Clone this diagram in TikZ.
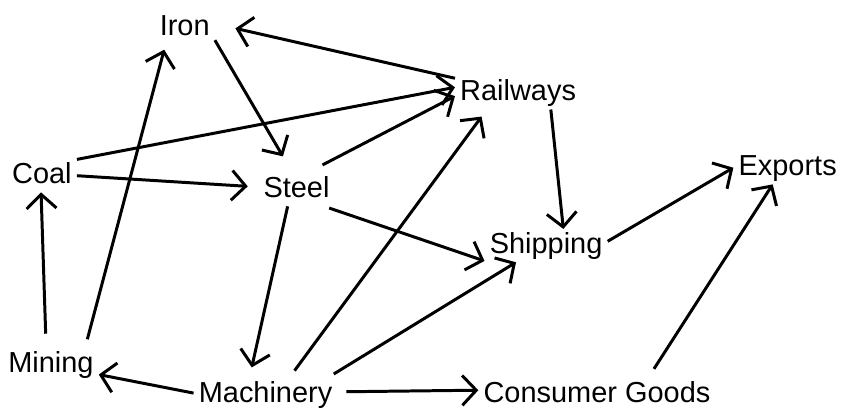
\documentclass[tikz,border=0pt]{standalone}
\usepackage{fontspec}
\setmainfont{Liberation Sans}
\usetikzlibrary{arrows.meta}

\begin{document}
\begin{tikzpicture}[x=0.02cm, y=-0.02cm, line width=1.7pt,
    term/.style={inner sep=3pt, outer sep=0pt, text height=11pt, text depth=2pt,
                 font=\fontsize{16.5}{20}\selectfont},
    link/.style={-{Straight Barb[length=8pt, width=17pt]}}]

  % Canvas
  \fill[white] (0,0) rectangle (842,406);

  % Industries
  \node[term] (iron)      at (185,28)  {Iron};
  \node[term] (railways)  at (519,93)  {Railways};
  \node[term] (coal)      at (42,176)  {Coal};
  \node[term] (steel)     at (297,190) {Steel};
  \node[term] (exports)   at (789,168) {Exports};
  \node[term] (shipping)  at (547,246) {Shipping};
  \node[term] (mining)    at (51,365)  {Mining};
  \node[term] (machinery) at (266,395) {Machinery};
  \node[term] (goods)     at (598,395) {Consumer Goods};

  % Links between them
  \draw[link, shorten >=12pt] (railways.167) -- (iron.8);
  \draw[link] (coal.25)      -- (railways.175);
  \draw[link, shorten >=11pt] (iron.-22) -- (steel.103);
  \draw[link, shorten <=10pt] (steel.58) -- (railways.183);
  \draw[link, shorten >=6pt] (coal.0) -- (steel.176);
  \draw[link, shorten <=5pt, shorten >=3pt] (mining.26) -- (iron.221);
  \draw[link, shorten <=8pt] (mining.106) -- (coal.267);
  \draw[link, shorten >=6pt] (steel.242) -- (machinery.134);
  \draw[link, shorten <=3pt] (steel.-31) -- (shipping.194);
  \draw[link, shorten <=5pt, shorten >=5pt] (machinery.35) -- (railways.208);
  \draw[link, shorten <=4pt] (machinery.15) -- (shipping.209);
  \draw[link] (railways.-27) -- (shipping.44);
  \draw[link] (shipping.4)   -- (exports.180);
  \draw[link, shorten <=6pt] (goods.18) -- (exports.228);
  \draw[link] (machinery.179) -- (mining.-12);
  \draw[link, shorten <=5pt] (machinery.2) -- (goods.178);

\end{tikzpicture}
\end{document}
